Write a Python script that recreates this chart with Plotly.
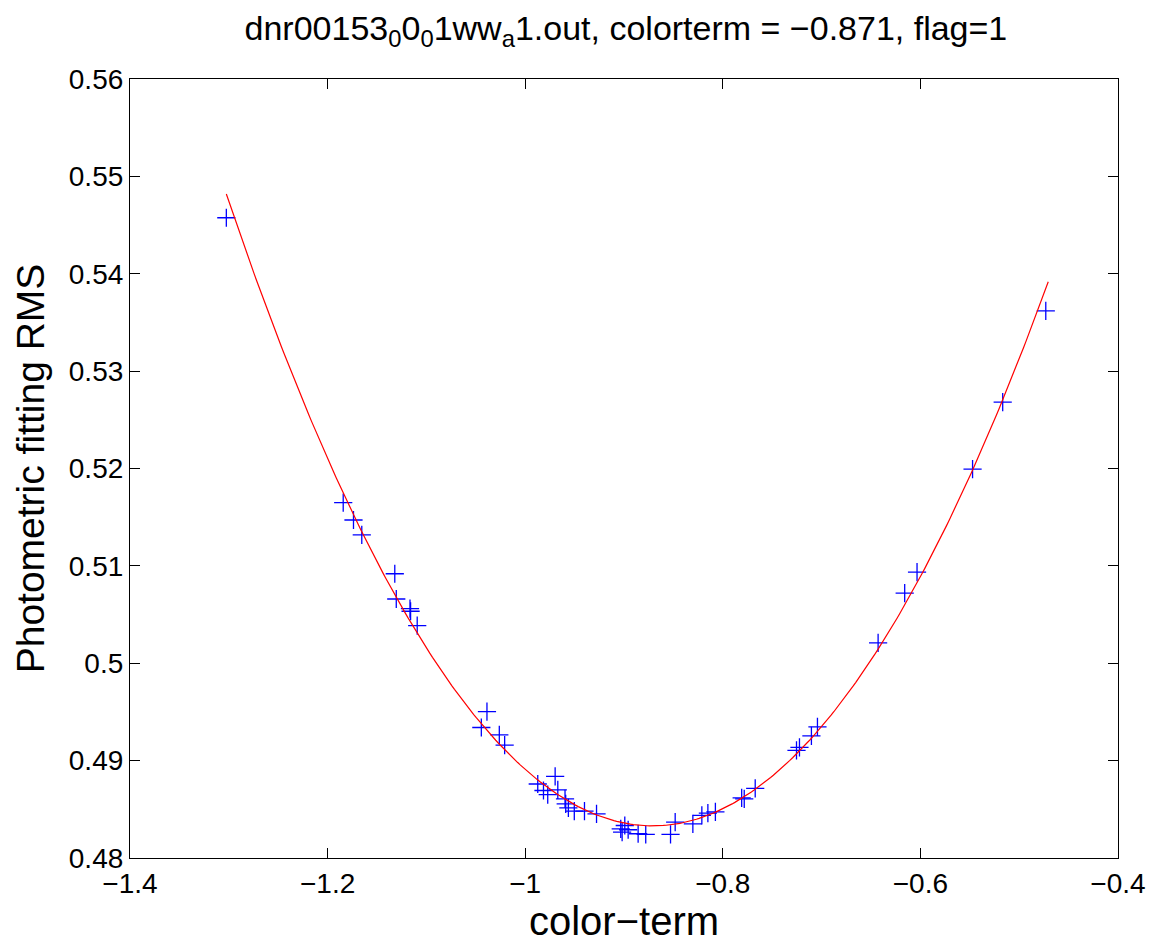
import numpy as np
import plotly.graph_objects as go

# Scatter data: color-term vs photometric fitting RMS
color_term = [-1.3025, -1.1842, -1.1738, -1.1654, -1.1320, -1.1305, -1.1166, -1.1160,
              -1.1093, -1.0444, -1.0387, -1.0262, -1.0208, -0.9873, -0.9815, -0.9772,
              -0.9697, -0.9670, -0.9597, -0.9590, -0.9563, -0.9503, -0.9400, -0.9278,
              -0.9033, -0.8992, -0.8958, -0.9019, -0.8857, -0.8780, -0.8529, -0.8482,
              -0.8303, -0.8212, -0.8151, -0.8075, -0.7809, -0.7783, -0.7672, -0.7254,
              -0.7224, -0.7103, -0.7042, -0.6428, -0.6159, -0.6034, -0.5472, -0.5167,
              -0.4731]
rms = [0.54575, 0.51649, 0.51471, 0.51318, 0.50919, 0.50660, 0.50560, 0.50534,
       0.50387, 0.49340, 0.49504, 0.49265, 0.49159, 0.48760, 0.48693, 0.48651,
       0.48839, 0.48700, 0.48607, 0.48556, 0.48515, 0.48481, 0.48481, 0.48453,
       0.48300, 0.48334, 0.48290, 0.48266, 0.48249, 0.48242, 0.48242, 0.48368,
       0.48351, 0.48437, 0.48460, 0.48474, 0.48617, 0.48607, 0.48716, 0.49105,
       0.49136, 0.49255, 0.49347, 0.50210, 0.50721, 0.50936, 0.51993, 0.52682,
       0.53619]

# Quadratic fit parameters (vertex form)
fit_vertex_x = -0.871
fit_min_rms = 0.4833
fit_curvature = 0.3485

fit_x = np.linspace(min(color_term), -0.4706, 300)
fit_y = fit_curvature * (fit_x - fit_vertex_x) ** 2 + fit_min_rms

FONT = "Liberation Sans, Arial, Helvetica, sans-serif"

fig = go.Figure()
fig.add_trace(go.Scatter(
    x=color_term, y=rms, mode="markers",
    marker=dict(symbol="cross-thin", size=13, color="blue",
                line=dict(color="blue", width=1.3)),
    showlegend=False,
))
fig.add_trace(go.Scatter(
    x=fit_x, y=fit_y, mode="lines",
    line=dict(color="red", width=1.2),
    showlegend=False,
))

axis_common = dict(
    showline=True, linecolor="black", linewidth=1.2, mirror="ticks",
    ticks="inside", ticklen=10, tickwidth=1, tickcolor="black",
    showgrid=False, zeroline=False,
    tickfont=dict(family=FONT, size=28, color="black"),
)

fig.update_layout(
    width=1158, height=943,
    margin=dict(l=130, r=36, t=79, b=82),
    paper_bgcolor="white", plot_bgcolor="white",
    title=dict(
        text="dnr00153<sub>0</sub>0<sub>0</sub>1ww<sub>a</sub>1.out, colorterm = \u22120.871, flag=1",
        x=0.5405, xanchor="center", y=0.970, yanchor="middle",
        font=dict(family=FONT, size=34, color="black"),
    ),
    xaxis=dict(
        range=[-1.4, -0.4], dtick=0.2, tick0=-1.4,
        title=dict(text="color\u2212term", font=dict(family=FONT, size=40, color="black"), standoff=4),
        **axis_common,
    ),
    yaxis=dict(
        range=[0.48, 0.56], dtick=0.01, tick0=0.48,
        title=dict(text="Photometric fitting RMS", font=dict(family=FONT, size=39, color="black"), standoff=12),
        **axis_common,
    ),
)

fig.write_html("out.html")
